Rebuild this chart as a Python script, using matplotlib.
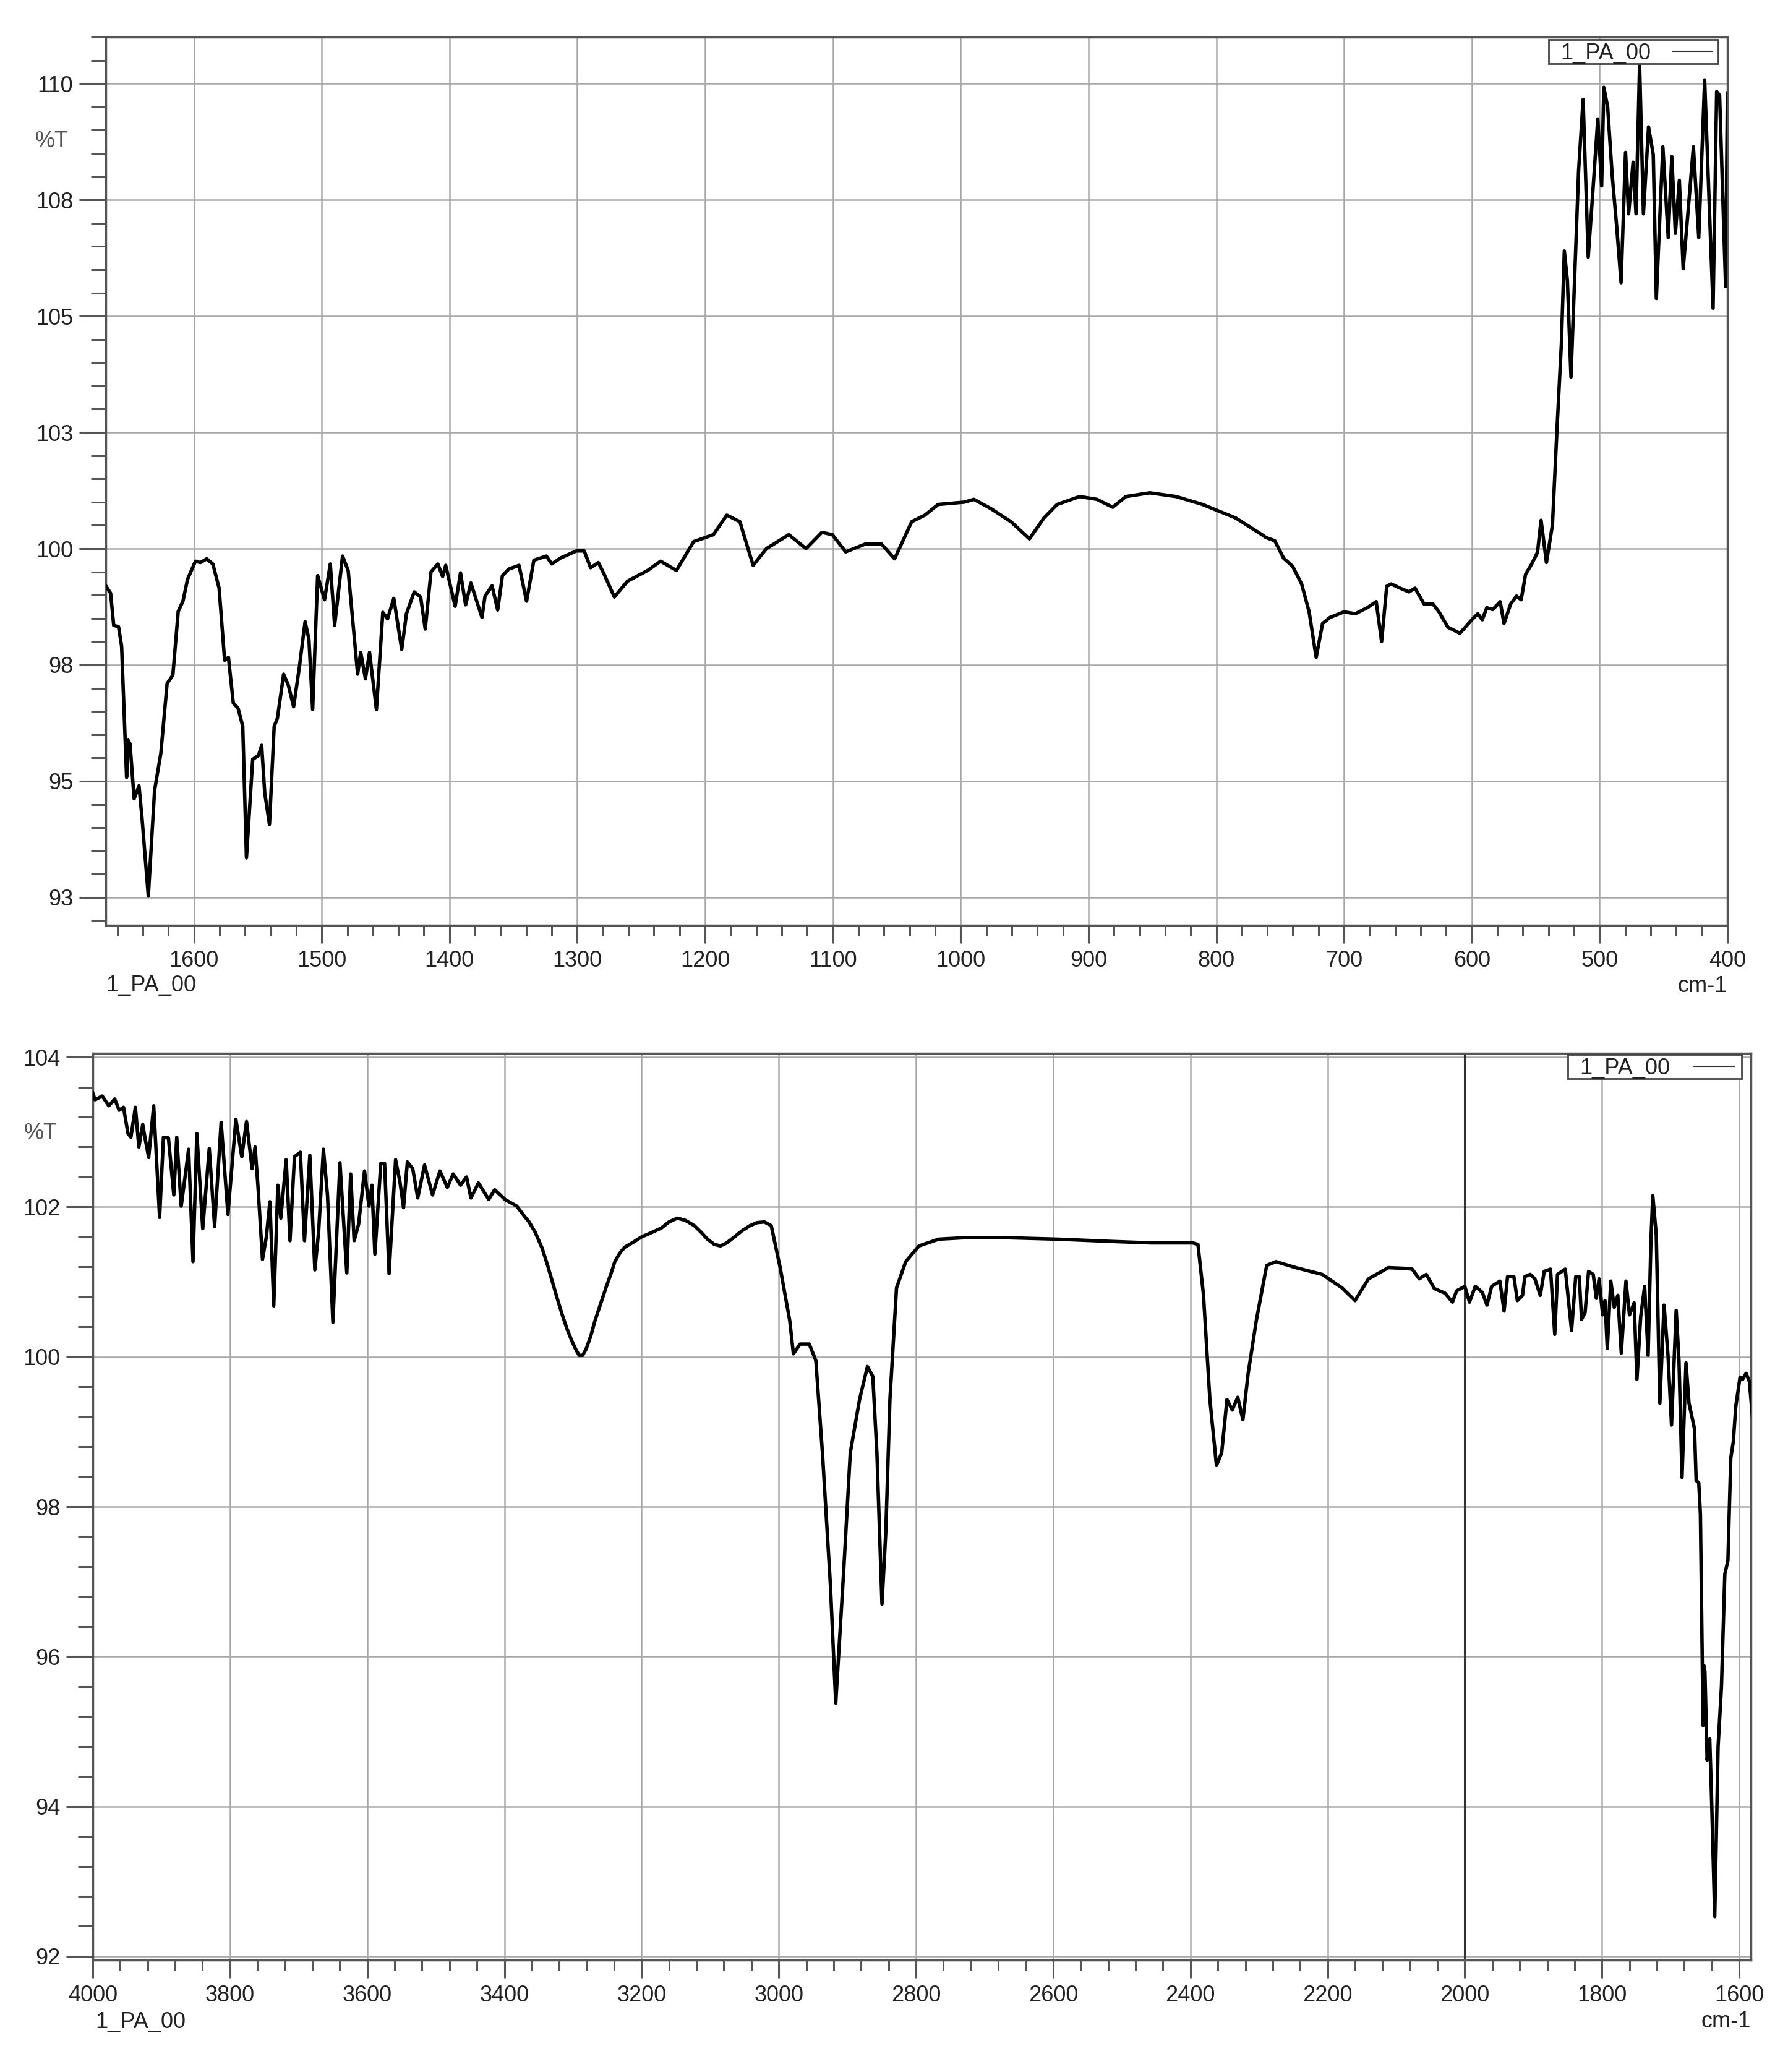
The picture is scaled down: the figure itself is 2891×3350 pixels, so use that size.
import numpy as np
import matplotlib.pyplot as plt
from matplotlib.ticker import MultipleLocator, FuncFormatter
from matplotlib.lines import Line2D
from matplotlib.patches import Rectangle

plt.rcParams['font.family'] = ['Liberation Sans', 'DejaVu Sans']

# spectrum 4000 -> ~1670 cm-1
wn_high = [4000, 3996.6, 3986.2, 3976.7, 3968, 3961.6, 3955.2, 3948.7, 3944.4, 3937.9,
           3932.8, 3927.2, 3922.8, 3918.5, 3911.2, 3902.6, 3897, 3889.7, 3881.9, 3877.6,
           3871.1, 3865.5, 3860.3, 3853.9, 3848.3, 3839.7, 3830.2, 3822.4, 3812.9, 3803,
           3791.4, 3782.8, 3775.9, 3767.7, 3763.4, 3759.1, 3752.6, 3747, 3741.8, 3736.2,
           3730.2, 3725.9, 3718.1, 3712.5, 3706, 3697.4, 3691.4, 3683.6, 3676.3, 3670.7,
           3663.8, 3657.8, 3650, 3639.7, 3629.7, 3624.1, 3619, 3612.5, 3603.9, 3597.4,
           3593.1, 3588.8, 3580.2, 3574.6, 3568.1, 3558.6, 3552.2, 3547, 3541.4, 3533.6,
           3526.3, 3516.4, 3504.7, 3494, 3483.2, 3474.6, 3463.8, 3455.2, 3448.7, 3437.9,
           3422.8, 3414.2, 3399.1, 3381.9, 3371.1, 3364, 3355, 3345, 3337, 3330,
           3323, 3316, 3309, 3302, 3296, 3291, 3286, 3281, 3274, 3268,
           3260, 3252, 3245, 3239, 3232, 3225, 3212, 3200, 3185, 3171,
           3160, 3148, 3136, 3123, 3113, 3104, 3094, 3085, 3076, 3066,
           3054, 3042, 3032, 3021, 3011, 2998, 2984, 2978.7, 2969,
           2955.6, 2946, 2936.4, 2924.8, 2917, 2905.5, 2895.8, 2882.3, 2870.8, 2863,
           2857, 2849.6, 2844, 2838, 2828.4, 2815, 2795.6, 2766.7, 2728, 2670.4,
           2593.3, 2516, 2458, 2396.7, 2389, 2381, 2371.6, 2362, 2354.4, 2346.7,
           2339, 2331, 2323.5, 2315.8, 2304, 2288.8, 2275.3, 2246.4, 2208, 2179,
           2160, 2140.4, 2111.5,
           2086.8, 2076.6, 2066.4, 2056.2, 2044.3, 2029, 2018, 2012, 2000, 1993.2,
           1984.7, 1974.5, 1967.7, 1960.9, 1948.9, 1942.8, 1937.7, 1928.5, 1923.4, 1915.9,
           1912.5, 1904.7, 1897.9, 1890, 1884.3, 1875.1, 1868.9, 1864.9, 1853.6, 1844.4,
           1838.3, 1833.2, 1829.8, 1824.7, 1819.6, 1812.8, 1808.3, 1804.3, 1799.1, 1795.7,
           1792.3, 1787.2, 1782.1, 1777, 1771.9, 1765.1, 1760, 1753.2, 1749.1, 1743.7,
           1737.9, 1732.8, 1728.7, 1726, 1720.9, 1715.7, 1709.6, 1703.8, 1698.7, 1691.9,
           1687.8, 1683.4, 1677.6, 1673.2]
t_high = [103.52, 103.43, 103.48, 103.35, 103.44, 103.29, 103.33, 102.98, 102.93, 103.33,
          102.8, 103.1, 102.87, 102.66, 103.35, 101.86, 102.93, 102.92, 102.16, 102.93,
          102.01, 102.4, 102.77, 101.27, 102.98, 101.71, 102.78, 101.74, 103.13, 101.9,
          103.17, 102.67, 103.14, 102.51, 102.8, 102.26, 101.3, 101.6, 102.07, 100.68,
          102.29, 101.85, 102.63, 101.55, 102.67, 102.73, 101.55, 102.69, 101.16, 101.68,
          102.77, 102.15, 100.46, 102.59, 101.12, 102.44, 101.55, 101.77, 102.48, 102.01,
          102.29, 101.37, 102.58, 102.58, 101.11, 102.63, 102.33, 101.99, 102.6, 102.51,
          102.12, 102.56, 102.16, 102.48, 102.26, 102.44, 102.29, 102.4, 102.12, 102.32,
          102.1, 102.23, 102.1, 102.01, 101.88, 101.8, 101.66, 101.45, 101.22, 101.0,
          100.78, 100.57, 100.38, 100.22, 100.1, 100.02, 100.02, 100.1, 100.28, 100.48,
          100.7, 100.92, 101.1, 101.27, 101.38, 101.46, 101.53, 101.6, 101.66, 101.72,
          101.8, 101.85, 101.82, 101.75, 101.66, 101.57, 101.5, 101.48, 101.52, 101.59,
          101.68, 101.75, 101.79, 101.8, 101.75, 101.19, 100.48, 100.04, 100.17,
          100.17, 99.95, 98.72, 96.96, 95.38, 97.13, 98.72, 99.43, 99.87, 99.74,
          98.72, 96.7, 97.67, 99.43, 100.92, 101.27, 101.48, 101.57, 101.59, 101.59,
          101.57, 101.54, 101.52, 101.52, 101.5, 100.83, 99.43, 98.55, 98.72, 99.43,
          99.29, 99.46, 99.16, 99.78, 100.48, 101.22, 101.27, 101.19, 101.1, 100.92,
          100.75, 101.04, 101.19,
          101.18, 101.17, 101.04, 101.1, 100.91, 100.85, 100.73, 100.88, 100.94, 100.73,
          100.94, 100.86, 100.69, 100.94, 101.01, 100.61, 101.07, 101.07, 100.75, 100.82,
          101.07, 101.1, 101.04, 100.82, 101.14, 101.17, 100.3, 101.1, 101.17, 100.35,
          101.07, 101.07, 100.5, 100.59, 101.14, 101.1, 100.78, 101.04, 100.56, 100.75,
          100.11, 101.01, 100.66, 100.82, 100.05, 101.01, 100.56, 100.72, 99.7, 100.53,
          100.94, 100.02, 101.55, 102.15, 101.62, 99.38, 100.69, 100.02, 99.09, 100.62,
          99.95, 98.39, 99.92, 99.38]

# spectrum 1669 -> 400 cm-1
wn_low = [1669, 1665.2, 1662.8, 1659, 1656.6, 1654, 1652.7, 1651.5, 1650, 1646.8,
          1643, 1640.6, 1635.7, 1630.8, 1625.9, 1621, 1616.5, 1612.3, 1608.6, 1605,
          1598.8, 1595, 1590, 1585.2, 1580.3, 1576, 1573, 1569.2, 1565.5, 1561.8,
          1558.9, 1554, 1549.5, 1547, 1544.6, 1540.9, 1537.2, 1534.7, 1529.8, 1526.1,
          1522, 1517.5, 1513, 1510, 1507.1, 1503.2, 1497.8, 1493.3, 1489.9, 1483.7,
          1479.3, 1471.9, 1469.5, 1465.8, 1462.6, 1457.2, 1452.2, 1448.5, 1443.6, 1437.4,
          1433.7, 1427.6, 1422.6, 1419, 1414.5, 1409.1, 1405.4, 1403, 1395.6, 1391.4,
          1387.4, 1383.3, 1374.6, 1372.2, 1366.7, 1362.3, 1358.6, 1353.7, 1345.6, 1339.7,
          1334, 1324.2, 1320, 1313, 1300.7, 1294.6, 1289.6, 1283.5,
          1279, 1271, 1260.7, 1245, 1234.8, 1222.4, 1209, 1193.5, 1183, 1172.8,
          1162.4, 1152, 1134.5, 1121, 1108.6, 1100.4, 1090, 1074.5, 1062, 1051.7,
          1038.3, 1028, 1017.6, 997, 989.7, 976.3, 960.7, 946.2, 934.8, 924.5,
          906.9, 893.4, 881, 870.7, 852, 831.4, 810.7, 784.8, 764.2,
          761.2, 754.2, 747.2, 740.2, 733.2, 727.3, 721.8, 716.8, 711, 700,
          691.1, 681.8, 674.8, 670.6, 666.6, 663.1, 656.1, 649.1, 644.4, 637.4,
          630.4, 625.7, 618.7, 609.3, 600, 595.3, 591.8, 588.3, 583.6, 577.8,
          574.8, 569.6, 565, 561.4, 557.9, 553.3, 548.6, 545.8, 541.6, 536.9,
          533.4, 529.9, 527.6, 525.2, 522.4, 519.4, 516.4, 512.9, 508.9, 505.4,
          501.4, 498.4, 496.7, 493.7, 490.2, 486.7, 483.2, 479.7, 477.3, 473.8,
          471.5, 468.7, 465.7, 461.7, 458, 455.6, 450.5, 446.3, 443.5, 440.7,
          437.6, 434.6, 431.3, 426.6, 422.4, 417.8, 411.2, 408.4, 406.1, 401.4,
          400]
t_low = [99.2, 99.04, 98.35, 98.32, 97.9, 96.0, 95.08, 95.88, 95.8, 94.62,
         94.9, 94.2, 92.53, 94.8, 95.6, 97.1, 97.28, 98.65, 98.87, 99.34,
         99.73, 99.7, 99.78, 99.67, 99.15, 97.6, 97.66, 96.68, 96.57, 96.18,
         93.35, 95.47, 95.55, 95.77, 94.75, 94.07, 96.18, 96.35, 97.3, 97.06,
         96.6, 97.45, 98.43, 98.05, 96.54, 99.42, 98.9, 99.67, 98.35, 99.84,
         99.53, 97.3, 97.77, 97.2, 97.77, 96.54, 98.63, 98.49, 98.93, 97.83,
         98.6, 99.07, 98.96, 98.27, 99.5, 99.67, 99.4, 99.64, 98.76, 99.48,
         98.79, 99.26, 98.52, 98.98, 99.2, 98.68, 99.42, 99.56, 99.64, 98.87,
         99.75, 99.84, 99.67, 99.8, 99.95, 99.95, 99.59, 99.7,
         99.45, 98.96, 99.3, 99.53, 99.73, 99.53, 100.15, 100.3, 100.72, 100.58,
         99.64, 100.0, 100.3, 100.0, 100.35, 100.3, 99.93, 100.1, 100.1, 99.78,
         100.58, 100.72, 100.95, 101.0, 101.06, 100.86, 100.58, 100.21, 100.66, 100.95,
         101.12, 101.06, 100.89, 101.12, 101.2, 101.12, 100.95, 100.66, 100.3,
         100.24, 100.17, 99.79, 99.62, 99.24, 98.64, 97.66, 98.39, 98.52, 98.64,
         98.6, 98.73, 98.86, 98.0, 99.19, 99.24, 99.15, 99.07, 99.15, 98.81,
         98.81, 98.64, 98.31, 98.18, 98.47, 98.6, 98.47, 98.73, 98.69, 98.86,
         98.39, 98.81, 98.98, 98.9, 99.45, 99.66, 99.92, 100.61, 99.7, 100.51,
         102.54, 104.41, 106.4, 105.76, 103.69, 105.93, 108.14, 109.66, 106.27, 107.63,
         109.24, 107.8, 109.92, 109.5, 108.05, 106.95, 105.72, 108.52, 107.2, 108.31,
         107.2, 110.42, 107.2, 109.07, 108.47, 105.38, 108.64, 106.69, 108.43, 106.78,
         107.92, 106.02, 107.08, 108.64, 106.69, 110.08, 105.17, 109.83, 109.75, 105.64,
         109.8]

series_name = '1_PA_00'
x_unit = 'cm-1'
y_unit = '%T'

wn = np.array(wn_high + wn_low)
trans = np.array(t_high + t_low)

W, H = 2891, 3350


def fx(x):
    return x / W


def fy(y):
    return 1 - y / H


fig = plt.figure(figsize=(W / 100, H / 100), dpi=100)
ax1 = fig.add_axes([fx(171), fy(1496), (2793 - 171) / W, (1496 - 60) / H])
ax2 = fig.add_axes([fx(150), fy(3169), (2831 - 150) / W, (3169 - 1703) / H])

# (axes, xlim, ylim, x major, x minor, y major, y minor)
panels = [
    (ax1, (1669, 400), (91.9, 111.0), 100, 20, 2.5, 0.5),
    (ax2, (4000, 1583), (91.95, 104.05), 200, 40, 2, 0.4),
]

half_up = FuncFormatter(lambda v, p: str(int(np.floor(v + 0.5))))

for ax, xl, yl, xmaj, xmin, ymaj, ymin in panels:
    ax.plot(wn, trans, color='black', lw=4.0, solid_joinstyle='round', zorder=3)
    ax.set_xlim(*xl)
    ax.set_ylim(*yl)
    ax.xaxis.set_major_locator(MultipleLocator(xmaj))
    ax.xaxis.set_minor_locator(MultipleLocator(xmin))
    ax.yaxis.set_major_locator(MultipleLocator(ymaj))
    ax.yaxis.set_minor_locator(MultipleLocator(ymin))
    ax.yaxis.set_major_formatter(half_up)
    ax.set_axisbelow(True)
    ax.grid(True, which='major', color='#a8a8a8', lw=1.8)
    for s in ax.spines.values():
        s.set_color('#555555')
        s.set_linewidth(2.5)
    ax.tick_params(axis='y', which='major', length=31, width=2.2, color='#555555',
                   labelsize=26, labelcolor='#222222', pad=7)
    ax.tick_params(axis='y', which='minor', length=17, width=2.2, color='#555555')
    ax.tick_params(axis='x', which='major', length=21, width=2.2, color='#555555',
                   labelsize=26, labelcolor='#222222', pad=8)
    ax.tick_params(axis='x', which='minor', length=12, width=2.2, color='#555555')

ax2.axvline(2000, color='#333333', lw=2.2, zorder=1.5)

# axis captions
fig.text(fx(111), fy(229), y_unit, ha='right', va='center', fontsize=26, color='#555555')
fig.text(fx(93), fy(1833), y_unit, ha='right', va='center', fontsize=26, color='#555555')
fig.text(fx(171), fy(1594), series_name, ha='left', va='center', fontsize=26, color='#222222')
fig.text(fx(2793), fy(1594), x_unit, ha='right', va='center', fontsize=26, color='#222222')
fig.text(fx(154), fy(3269), series_name, ha='left', va='center', fontsize=26, color='#222222')
fig.text(fx(2831), fy(3269), x_unit, ha='right', va='center', fontsize=26, color='#222222')


def legend_box(x0, y0, x1, y1, tx, ty, lx0, lx1, ly):
    fig.patches.append(Rectangle((fx(x0), fy(y1)), (x1 - x0) / W, (y1 - y0) / H,
                                 transform=fig.transFigure, facecolor='white',
                                 edgecolor='#444444', lw=2, zorder=5))
    fig.text(fx(tx), fy(ty), series_name, ha='left', va='baseline', fontsize=26,
             color='#222222', zorder=6)
    fig.lines.append(Line2D([fx(lx0), fx(lx1)], [fy(ly), fy(ly)], transform=fig.transFigure,
                            color='#333333', lw=1.5, zorder=6))


legend_box(2504, 64, 2778, 103, 2523, 96, 2705, 2768, 83)
legend_box(2535, 1705, 2816, 1744, 2554, 1737, 2738, 2804, 1724)

fig.savefig('out.png', dpi=100, facecolor='white')
